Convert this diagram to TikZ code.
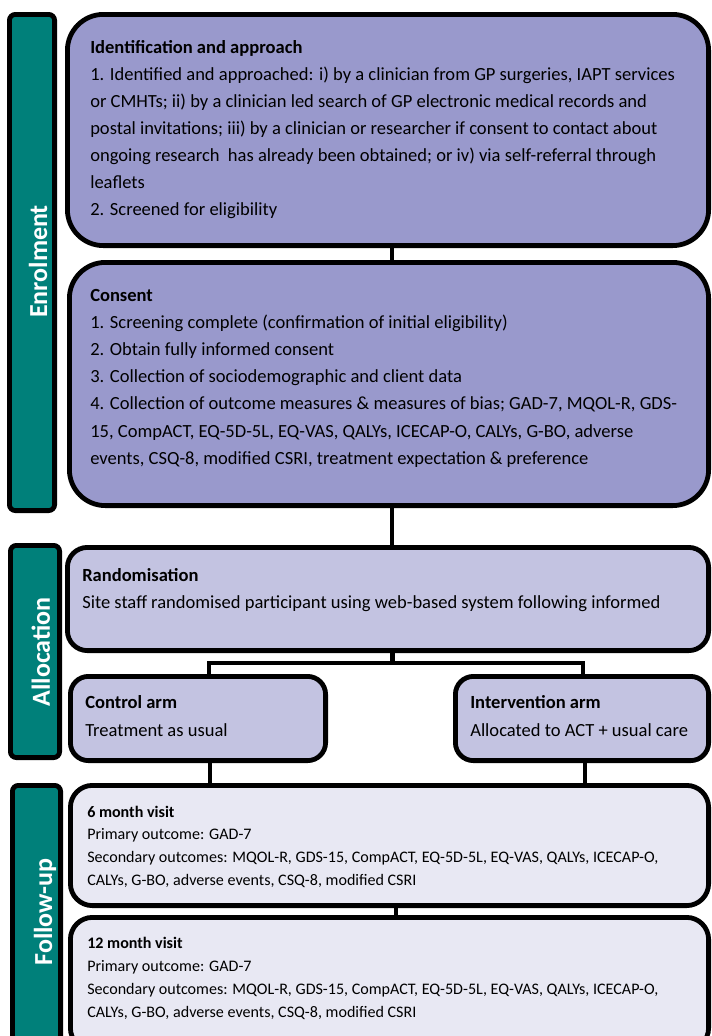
\documentclass[tikz,border=0pt]{standalone}
\usepackage{fontspec}
\setmainfont{Carlito}
\newcommand\fbody{\fontsize{13.9}{16}\selectfont}
\newcommand\fsmall{\fontsize{12.05}{14}\selectfont}
\newcommand\fside{\fontsize{19.5}{22}\selectfont\bfseries}
\definecolor{tealbar}{RGB}{0,128,122}
\definecolor{lavdark}{RGB}{153,153,204}
\definecolor{lavmid}{RGB}{195,195,225}
\definecolor{lavlight}{RGB}{232,232,243}
\tikzset{
  boxbase/.style={draw=black, line width=3.6pt, rectangle, inner sep=0pt},
  sidebar/.style={boxbase, fill=tealbar, rounded corners=4.5pt},
  bigbox/.style={boxbase, fill=lavdark, rounded corners=27pt},
  midbox/.style={boxbase, fill=lavmid, rounded corners=15pt},
  armbox/.style={boxbase, fill=lavmid, rounded corners=13.5pt},
  fubox/.style={boxbase, fill=lavlight, rounded corners=16.5pt},
  sidelab/.style={text=white, font=\fside, rotate=90, anchor=base, inner sep=0pt},
  tl/.style={anchor=base west, inner sep=0pt, text=black},
  conn/.style={draw=black, line width=3.6pt}
}
% name, style, x1, y1, x2, y2  (stroke centre, px)
\newcommand\pbox[6]{%
  \node[#2, minimum width={(#5-#3)*0.75pt}, minimum height={(#6-#4)*0.75pt}] (#1) at ({(#3+#5)/2},{(#4+#6)/2}) {};}
% prefix, x, first baseline, step, font, lines
\newcommand\tlines[6]{%
  \foreach \ln [count=\k] in {#6} {\node[tl, font=#5] (#1-\k) at ({#2},{#3+(\k-1)*#4}) {\ln};}}
\begin{document}
\begin{tikzpicture}[x=0.75pt, y=-0.75pt]
\useasboundingbox (0,0) rectangle (711,1036);
\clip (0,0) rectangle (711,1036);
% connector x positions
\coordinate (xa) at (392,0);
\coordinate (xb) at (392.5,0);
\coordinate (jc) at (392.5,663);
\coordinate (jl) at (209,663);
\coordinate (jr) at (583,663);
\coordinate (xc) at (210,0);
\coordinate (xi) at (585,0);
\coordinate (xf) at (396,0);
% boxes
\pbox{enrol}{sidebar}{9.4}{14.4}{54.6}{510.6}
\pbox{alloc}{sidebar}{10.4}{545.4}{59.6}{757.6}
\pbox{follow}{sidebar}{12.4}{785.4}{60.6}{1060}
\pbox{ident}{bigbox}{67.4}{14.4}{708.6}{245.6}
\pbox{consent}{bigbox}{69.4}{262.4}{708.6}{505.6}
\pbox{rand}{midbox}{67.4}{547.4}{708.6}{650.6}
\pbox{ctrl}{armbox}{70.4}{676.4}{325.6}{760.6}
\pbox{intv}{armbox}{455.4}{676.4}{708.6}{760.6}
\pbox{six}{fubox}{70.4}{785.4}{708.6}{905.6}
\pbox{twelve}{fubox}{70.4}{917.4}{708.6}{1050}
% connectors
\draw[conn] (ident.south -| xa) -- (consent.north -| xa);
\draw[conn] (consent.south -| xa) -- (rand.north -| xa);
\draw[conn] (rand.south -| xb) -- (jc);
\draw[conn] (ctrl.north -| jl) -- (jl) -- (jr) -- (intv.north -| jr);
\draw[conn] (ctrl.south -| xc) -- (six.north -| xc);
\draw[conn] (intv.south -| xi) -- (six.north -| xi);
\draw[conn] (six.south -| xf) -- (twelve.north -| xf);
% side labels
\node[sidelab] (lenrol) at (47,261.5) {Enrolment};
\node[sidelab] (lalloc) at (50,652) {Allocation};
\node[sidelab] (lfollow) at (52,912) {Follow-up};
% texts
\tlines{ti}{90}{53}{27.15}{\fbody}{{\bfseries Identification and approach},
 {1. Identified and approached: i) by a clinician from GP surgeries, IAPT services},
 {or CMHTs; ii) by a clinician led search of GP electronic medical records and},
 {postal invitations; iii) by a clinician or researcher if consent to contact about},
 {ongoing research \ has already been obtained; or iv) via self-referral through},
 {leaflets},
 {2. Screened for eligibility}}
\tlines{tc}{90}{301}{27.2}{\fbody}{{\bfseries Consent},
 {1. Screening complete (confirmation of initial eligibility)},
 {2. Obtain fully informed consent},
 {3. Collection of sociodemographic and client data},
 {4. Collection of outcome measures \& measures of bias; GAD-7, MQOL-R, GDS-},
 {15, CompACT, EQ-5D-5L, EQ-VAS, QALYs, ICECAP-O, CALYs, G-BO, adverse},
 {events, CSQ-8, modified CSRI, treatment expectation \& preference}}
\tlines{tr}{82}{581}{27}{\fbody}{{\bfseries Randomisation},
 {Site staff randomised participant using web-based system following informed}}
\tlines{tk}{85}{708}{28}{\fbody}{{\bfseries Control arm},{Treatment as usual}}
\tlines{tv}{470}{708}{28}{\fbody}{{\bfseries Intervention arm},{Allocated to ACT + usual care}}
\tlines{ts}{87}{817}{22.7}{\fsmall}{{\bfseries 6 month visit},
 {Primary outcome: GAD-7},
 {Secondary outcomes: MQOL-R, GDS-15, CompACT, EQ-5D-5L, EQ-VAS, QALYs, ICECAP-O,},
 {CALYs, G-BO, adverse events, CSQ-8, modified CSRI}}
\tlines{tw}{87}{948}{23.3}{\fsmall}{{\bfseries 12 month visit},
 {Primary outcome: GAD-7},
 {Secondary outcomes: MQOL-R, GDS-15, CompACT, EQ-5D-5L, EQ-VAS, QALYs, ICECAP-O,},
 {CALYs, G-BO, adverse events, CSQ-8, modified CSRI}}
\end{tikzpicture}
\end{document}
